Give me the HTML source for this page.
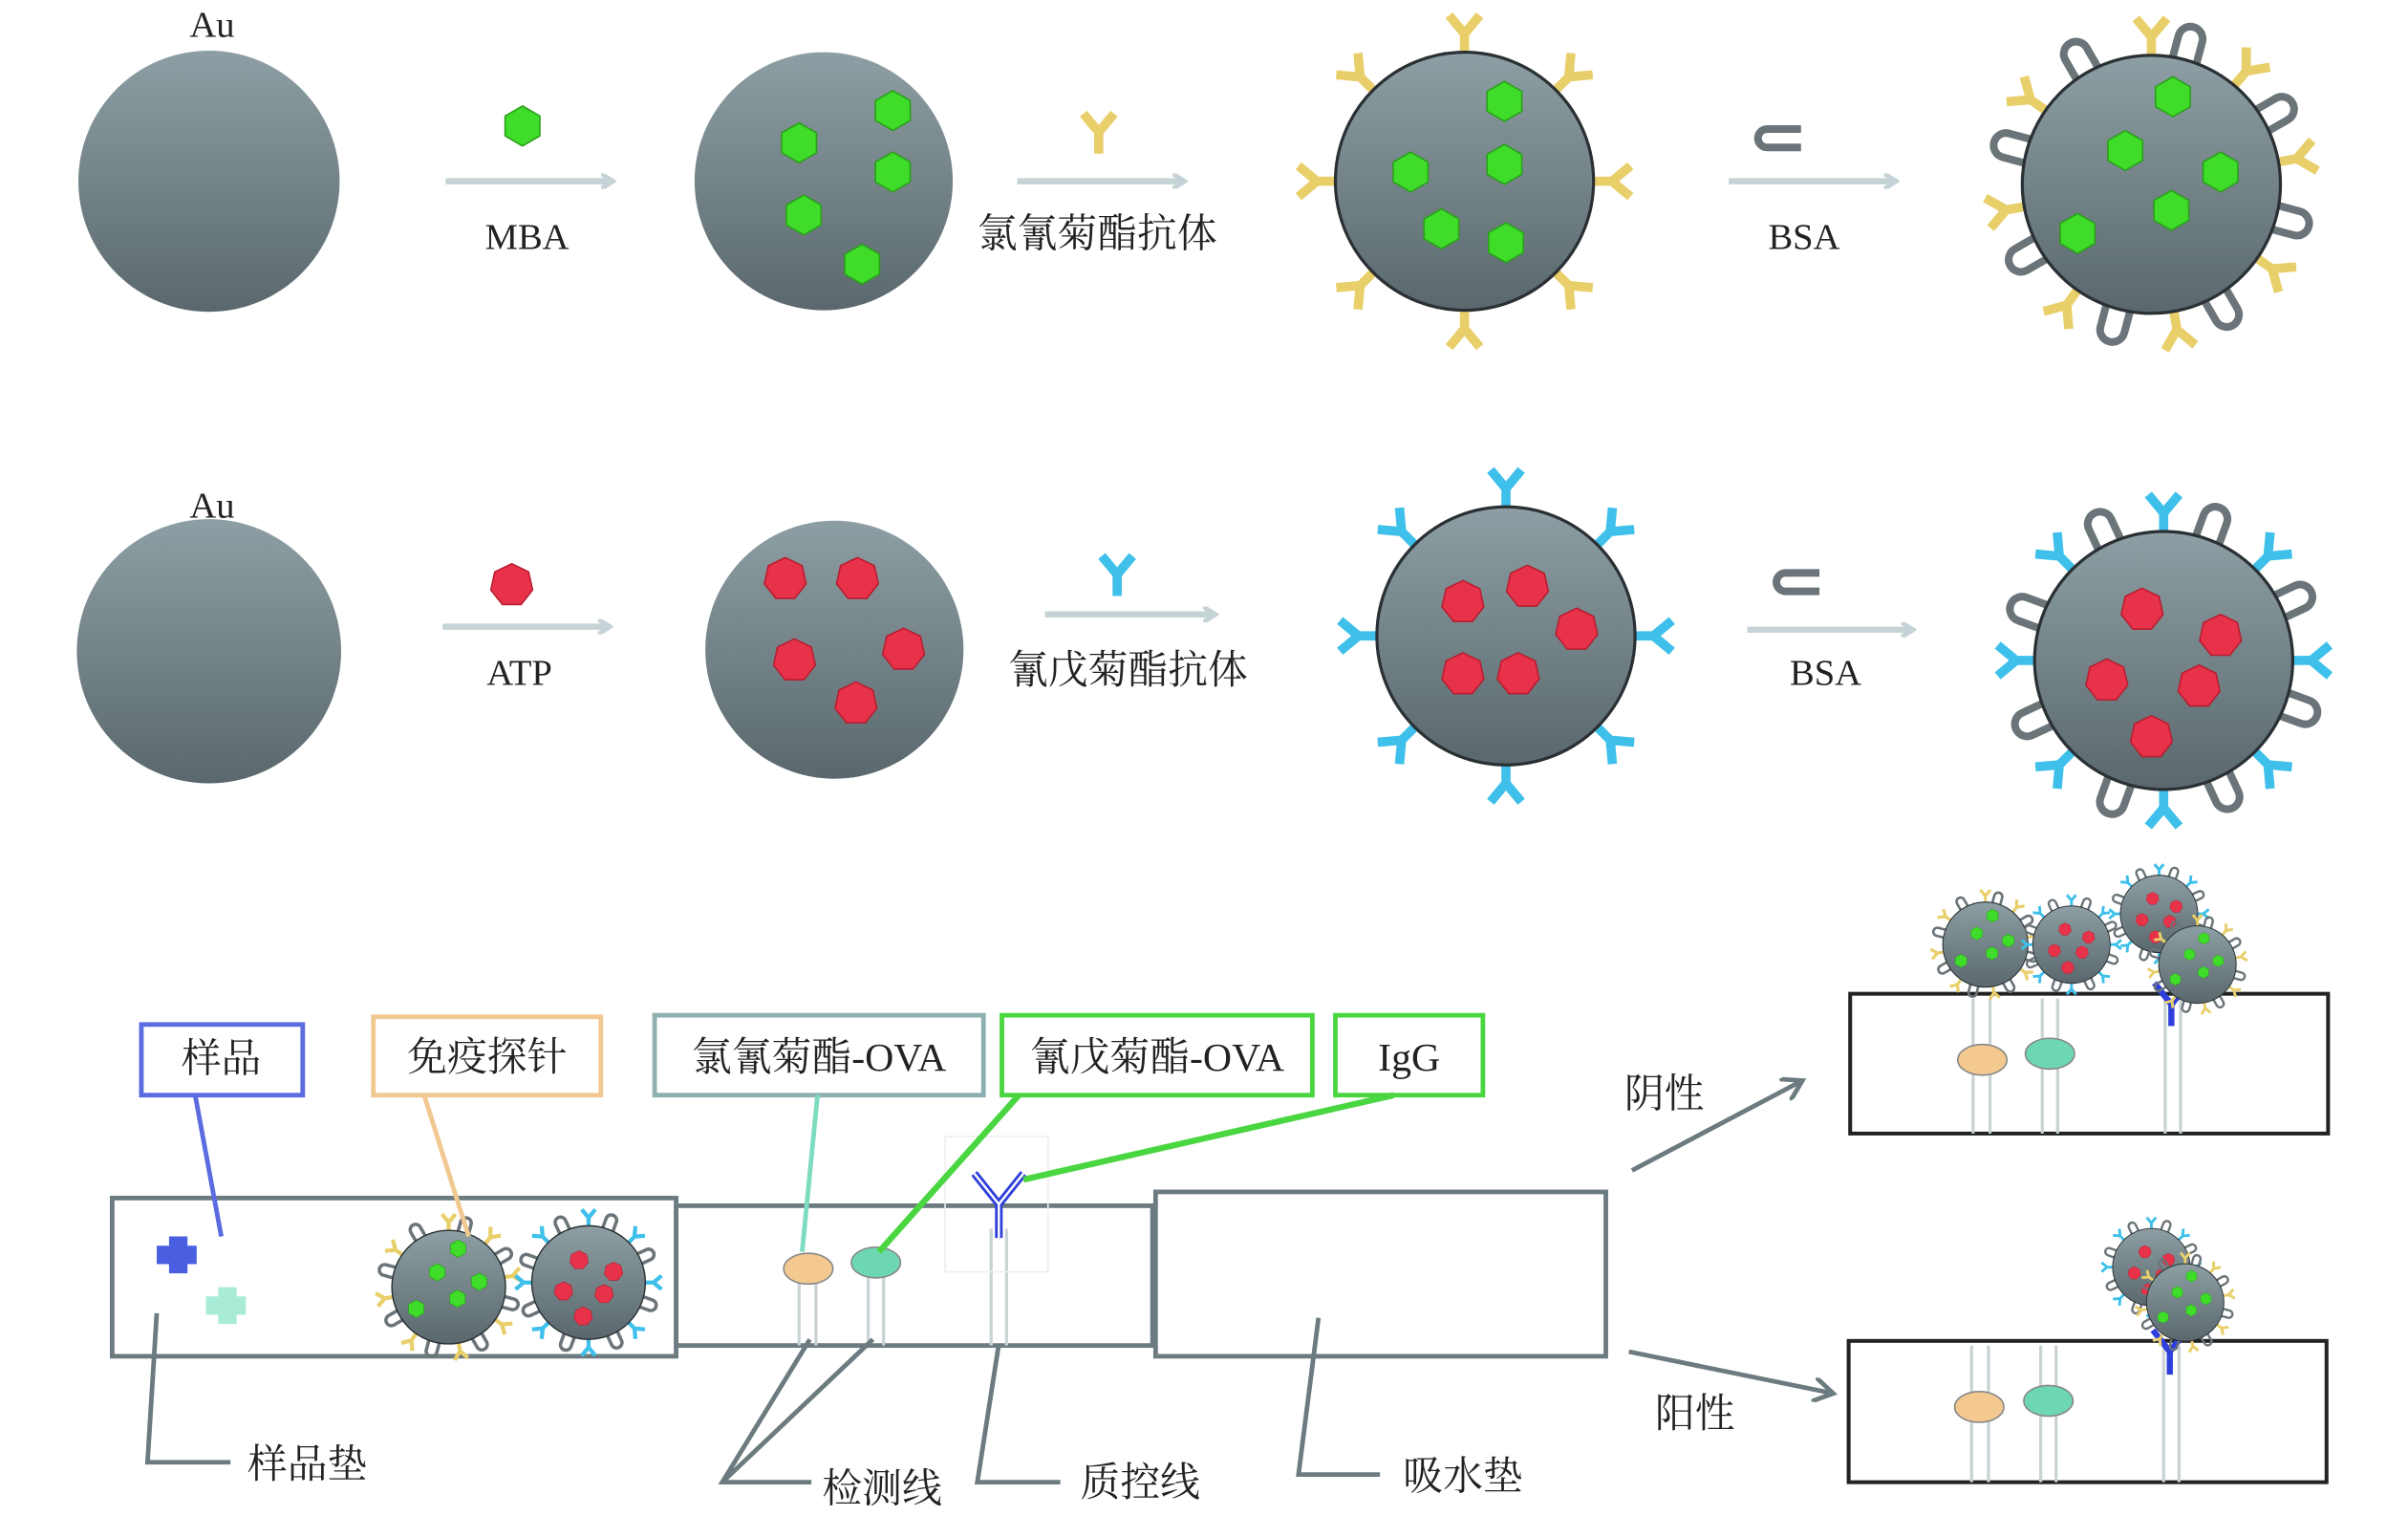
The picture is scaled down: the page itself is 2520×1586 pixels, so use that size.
<!DOCTYPE html>
<html><head><meta charset="utf-8"><style>
html,body{margin:0;padding:0;background:#fff;width:2520px;height:1586px;overflow:hidden}
svg{display:block}
text{font-family:"Liberation Serif","Noto Serif CJK SC","Noto Sans CJK SC",serif;fill:#222}
</style></head><body>
<svg width="2520" height="1586" viewBox="0 0 1567 987" preserveAspectRatio="none" xmlns="http://www.w3.org/2000/svg">
<defs>
<linearGradient id="gg" x1="0" y1="0" x2="0" y2="1">
<stop offset="0" stop-color="#8d9fa4"/><stop offset="1" stop-color="#5a686d"/></linearGradient>
<marker id="ah" markerWidth="10" markerHeight="10" refX="7" refY="5" orient="auto" markerUnits="userSpaceOnUse">
<path d="M0,0 L8,5 L0,10" fill="none" stroke="#c5d3d6" stroke-width="3"/></marker>
<marker id="ah2" markerWidth="16" markerHeight="16" refX="12" refY="8" orient="auto" markerUnits="userSpaceOnUse">
<path d="M0,0 L13,8 L0,16" fill="none" stroke="#6b7b80" stroke-width="3"/></marker>
<polygon id="hex" points="0,-13 11.3,-6.5 11.3,6.5 0,13 -11.3,6.5 -11.3,-6.5" fill="#3fdc2a" stroke="#2aa01a" stroke-width="1"/>
<polygon id="hep" points="0,-14 11,-8.7 13.6,3.1 6.1,12.6 -6.1,12.6 -13.6,3.1 -11,-8.7" fill="#e8324a" stroke="#b81e30" stroke-width="1"/>
<path id="aby" d="M0,0 L0,-14 L-10,-26 M0,-14 L10,-26" fill="none" stroke="#e8cf6a" stroke-width="6"/>
<path id="abb" d="M0,0 L0,-14 L-10,-26 M0,-14 L10,-26" fill="none" stroke="#3ec0ea" stroke-width="6"/>
<path id="bsa" d="M-8,0 L-8,-16 A8,8 0 0 1 8,-16 L8,0" fill="none" stroke="#6b7478" stroke-width="5"/>
<g id="np1">
<use href="#bsa" transform="rotate(15) translate(0,-82)"/>
<use href="#bsa" transform="rotate(60) translate(0,-82)"/><use href="#bsa" transform="rotate(105) translate(0,-82)"/>
<use href="#bsa" transform="rotate(150) translate(0,-82)"/><use href="#bsa" transform="rotate(195) translate(0,-82)"/>
<use href="#bsa" transform="rotate(240) translate(0,-82)"/><use href="#bsa" transform="rotate(285) translate(0,-82)"/>
<use href="#bsa" transform="rotate(330) translate(0,-82)"/>
<use href="#aby" transform="rotate(0) translate(0,-82)"/><use href="#aby" transform="rotate(40) translate(0,-82)"/>
<use href="#aby" transform="rotate(80) translate(0,-82)"/><use href="#aby" transform="rotate(125) translate(0,-82)"/>
<use href="#aby" transform="rotate(170) translate(0,-82)"/><use href="#aby" transform="rotate(215) translate(0,-82)"/>
<use href="#aby" transform="rotate(260) translate(0,-82)"/><use href="#aby" transform="rotate(305) translate(0,-82)"/>
<circle r="84" fill="url(#gg)" stroke="#2a3033" stroke-width="2"/>
<use href="#hex" x="14" y="-57"/><use href="#hex" x="-17" y="-22"/><use href="#hex" x="45" y="-8"/>
<use href="#hex" x="-48" y="32"/><use href="#hex" x="13" y="17"/>
</g>
<g id="np2">
<use href="#bsa" transform="rotate(20) translate(0,-82)"/><use href="#bsa" transform="rotate(65) translate(0,-82)"/>
<use href="#bsa" transform="rotate(110) translate(0,-82)"/><use href="#bsa" transform="rotate(155) translate(0,-82)"/>
<use href="#bsa" transform="rotate(200) translate(0,-82)"/><use href="#bsa" transform="rotate(245) translate(0,-82)"/>
<use href="#bsa" transform="rotate(290) translate(0,-82)"/><use href="#bsa" transform="rotate(335) translate(0,-82)"/>
<use href="#abb" transform="rotate(0) translate(0,-82)"/><use href="#abb" transform="rotate(45) translate(0,-82)"/>
<use href="#abb" transform="rotate(90) translate(0,-82)"/><use href="#abb" transform="rotate(135) translate(0,-82)"/>
<use href="#abb" transform="rotate(180) translate(0,-82)"/><use href="#abb" transform="rotate(225) translate(0,-82)"/>
<use href="#abb" transform="rotate(270) translate(0,-82)"/><use href="#abb" transform="rotate(315) translate(0,-82)"/>
<circle r="84" fill="url(#gg)" stroke="#2a3033" stroke-width="2"/>
<use href="#hep" x="-14" y="-33"/><use href="#hep" x="37" y="-16"/><use href="#hep" x="-37" y="13"/>
<use href="#hep" x="23" y="17"/><use href="#hep" x="-8" y="50"/>
</g>
</defs>

<!-- Row 1 -->
<text x="138" y="24" font-size="24" text-anchor="middle">Au</text>
<circle cx="136" cy="118" r="85" fill="url(#gg)"/>
<use href="#hex" x="340" y="82"/>
<line x1="290" y1="118" x2="398" y2="118" stroke="#c5d3d6" stroke-width="4" marker-end="url(#ah)"/>
<text x="343" y="162" font-size="24" text-anchor="middle">MBA</text>
<circle cx="536" cy="118" r="84" fill="url(#gg)"/>
<use href="#hex" x="581" y="72"/><use href="#hex" x="520" y="93"/><use href="#hex" x="581" y="112"/>
<use href="#hex" x="523" y="140"/><use href="#hex" x="561" y="172"/>
<use href="#aby" x="715" y="100"/>
<line x1="662" y1="118" x2="770" y2="118" stroke="#c5d3d6" stroke-width="4" marker-end="url(#ah)"/>
<text x="714" y="161" font-size="26" text-anchor="middle">氯氰菊酯抗体</text>
<g transform="translate(953,118)">
<use href="#aby" transform="rotate(0) translate(0,-82)"/><use href="#aby" transform="rotate(45) translate(0,-82)"/>
<use href="#aby" transform="rotate(90) translate(0,-82)"/><use href="#aby" transform="rotate(135) translate(0,-82)"/>
<use href="#aby" transform="rotate(180) translate(0,-82)"/><use href="#aby" transform="rotate(225) translate(0,-82)"/>
<use href="#aby" transform="rotate(270) translate(0,-82)"/><use href="#aby" transform="rotate(315) translate(0,-82)"/>
<circle r="84" fill="url(#gg)" stroke="#2a3033" stroke-width="2"/>
<use href="#hex" x="26" y="-52"/><use href="#hex" x="-35" y="-6"/><use href="#hex" x="26" y="-11"/>
<use href="#hex" x="-15" y="31"/><use href="#hex" x="27" y="40"/>
</g>
<path d="M1172,84 L1150,84 A6,6 0 0 0 1150,96 L1172,96" fill="none" stroke="#6b7478" stroke-width="5"/>
<line x1="1125" y1="118" x2="1233" y2="118" stroke="#c5d3d6" stroke-width="4" marker-end="url(#ah)"/>
<text x="1174" y="162" font-size="24" text-anchor="middle">BSA</text>
<use href="#np1" x="1400" y="120"/>

<!-- Row 2 -->
<text x="138" y="337" font-size="24" text-anchor="middle">Au</text>
<circle cx="136" cy="424" r="86" fill="url(#gg)"/>
<use href="#hep" x="333" y="381"/>
<line x1="288" y1="408" x2="396" y2="408" stroke="#c5d3d6" stroke-width="4" marker-end="url(#ah)"/>
<text x="338" y="446" font-size="24" text-anchor="middle">ATP</text>
<circle cx="543" cy="423" r="84" fill="url(#gg)"/>
<use href="#hep" x="511" y="377"/><use href="#hep" x="558" y="377"/><use href="#hep" x="517" y="430"/>
<use href="#hep" x="588" y="423"/><use href="#hep" x="557" y="458"/>
<use href="#abb" x="727" y="388"/>
<line x1="680" y1="400" x2="790" y2="400" stroke="#c5d3d6" stroke-width="4" marker-end="url(#ah)"/>
<text x="734" y="445" font-size="26" text-anchor="middle">氰戊菊酯抗体</text>
<g transform="translate(980,414)">
<use href="#abb" transform="rotate(0) translate(0,-82)"/><use href="#abb" transform="rotate(45) translate(0,-82)"/>
<use href="#abb" transform="rotate(90) translate(0,-82)"/><use href="#abb" transform="rotate(135) translate(0,-82)"/>
<use href="#abb" transform="rotate(180) translate(0,-82)"/><use href="#abb" transform="rotate(225) translate(0,-82)"/>
<use href="#abb" transform="rotate(270) translate(0,-82)"/><use href="#abb" transform="rotate(315) translate(0,-82)"/>
<circle r="84" fill="url(#gg)" stroke="#2a3033" stroke-width="2"/>
<use href="#hep" x="-28" y="-22"/><use href="#hep" x="14" y="-32"/><use href="#hep" x="46" y="-4"/>
<use href="#hep" x="-28" y="25"/><use href="#hep" x="8" y="25"/>
</g>
<path d="M1184,373 L1162,373 A6,6 0 0 0 1162,385 L1184,385" fill="none" stroke="#6b7478" stroke-width="5"/>
<line x1="1137" y1="410" x2="1244" y2="410" stroke="#c5d3d6" stroke-width="4" marker-end="url(#ah)"/>
<text x="1188" y="446" font-size="24" text-anchor="middle">BSA</text>
<use href="#np2" x="1408" y="430"/>

<!-- Strip -->
<g fill="none" stroke="#6b7b80" stroke-width="3">
<rect x="73" y="780" width="367" height="103"/>
<rect x="440" y="785" width="310" height="91"/>
<rect x="752" y="776" width="293" height="107"/>
</g>
<g stroke="#c9d2d4" stroke-width="2">
<line x1="520" y1="826" x2="520" y2="876"/><line x1="531" y1="826" x2="531" y2="876"/>
<line x1="565" y1="822" x2="565" y2="876"/><line x1="575" y1="822" x2="575" y2="876"/>
<line x1="645" y1="800" x2="645" y2="876"/><line x1="655" y1="800" x2="655" y2="876"/>
</g>
<ellipse cx="526" cy="826" rx="16" ry="10" fill="#f3c990" stroke="#888" stroke-width="1"/>
<ellipse cx="570" cy="822" rx="16" ry="10" fill="#6dd7b2" stroke="#888" stroke-width="1"/>
<rect x="615" y="740" width="67" height="88" fill="none" stroke="#eee" stroke-width="1"/>
<path d="M650,806 L650,784 L634,764 M650,784 L666,764" fill="none" stroke="#2f3fdc" stroke-width="5"/>
<path d="M650,806 L650,784 L634,764 M650,784 L666,764" fill="none" stroke="#fff" stroke-width="1.5"/>
<path d="M110,805 h12 v6 h6 v12 h-6 v6 h-12 v-6 h-8 v-12 h8z" fill="#4a5fe0"/>
<path d="M142,838 h12 v6 h6 v12 h-6 v6 h-12 v-6 h-8 v-12 h8z" fill="#a8ecd8"/>
<use href="#np1" transform="translate(292,838) scale(0.44)"/>
<use href="#np2" transform="translate(383,835) scale(0.44)"/>

<g fill="none" stroke-width="3">
<rect x="92" y="667" width="105" height="46" stroke="#5b6be0"/>
<rect x="243" y="662" width="148" height="51" stroke="#f0c890"/>
<rect x="426" y="661" width="214" height="52" stroke="#8fb0b0"/>
<rect x="652" y="661" width="202" height="52" stroke="#4ad640"/>
<rect x="869" y="661" width="96" height="52" stroke="#4ad640"/>
</g>
<text x="144" y="698" font-size="26" text-anchor="middle">样品</text>
<text x="317" y="697" font-size="26" text-anchor="middle">免疫探针</text>
<text x="533" y="697" font-size="26" text-anchor="middle">氯氰菊酯-OVA</text>
<text x="753" y="697" font-size="26" text-anchor="middle">氰戊菊酯-OVA</text>
<text x="917" y="697" font-size="26" text-anchor="middle">IgG</text>
<line x1="127" y1="713" x2="144" y2="805" stroke="#5b6be0" stroke-width="3"/>
<line x1="276" y1="713" x2="305" y2="805" stroke="#f0c890" stroke-width="3"/>
<line x1="532" y1="713" x2="522" y2="815" stroke="#7ddbc0" stroke-width="3"/>
<line x1="663" y1="713" x2="572" y2="815" stroke="#4ad640" stroke-width="4"/>
<line x1="907" y1="713" x2="666" y2="768" stroke="#4ad640" stroke-width="4"/>

<g fill="none" stroke="#6b7b80" stroke-width="3">
<path d="M102,855 L96,952 L150,952"/>
<path d="M527,872 L470,965 L528,965 M568,872 L470,965"/>
<path d="M650,875 L636,965 L690,965"/>
<path d="M858,858 L845,960 L898,960"/>
<line x1="1062" y1="762" x2="1172" y2="704" marker-end="url(#ah2)"/>
<line x1="1060" y1="880" x2="1192" y2="907" marker-end="url(#ah2)"/>
</g>
<text x="200" y="962" font-size="26" text-anchor="middle">样品垫</text>
<text x="574" y="978" font-size="26" text-anchor="middle">检测线</text>
<text x="742" y="974" font-size="26" text-anchor="middle">质控线</text>
<text x="952" y="970" font-size="26" text-anchor="middle">吸水垫</text>
<text x="1083" y="721" font-size="26" text-anchor="middle">阴性</text>
<text x="1103" y="929" font-size="26" text-anchor="middle">阳性</text>

<rect x="1204" y="647" width="311" height="91" fill="none" stroke="#222" stroke-width="2.5"/>
<g stroke="#c9d2d4" stroke-width="2">
<line x1="1284" y1="650" x2="1284" y2="738"/><line x1="1295" y1="650" x2="1295" y2="738"/>
<line x1="1329" y1="650" x2="1329" y2="738"/><line x1="1339" y1="650" x2="1339" y2="738"/>
<line x1="1409" y1="650" x2="1409" y2="738"/><line x1="1419" y1="650" x2="1419" y2="738"/>
</g>
<ellipse cx="1290" cy="690" rx="16" ry="10" fill="#f3c990" stroke="#888"/>
<ellipse cx="1334" cy="686" rx="16" ry="10" fill="#6dd7b2" stroke="#888"/>
<path d="M1413,668 L1413,654 L1402,640 M1413,654 L1424,640" fill="none" stroke="#2f3fdc" stroke-width="4"/>
<use href="#np1" transform="translate(1292,615) scale(0.33)"/>
<use href="#np2" transform="translate(1348,615) scale(0.3)"/>
<use href="#np2" transform="translate(1405,595) scale(0.3)"/>
<use href="#np1" transform="translate(1430,628) scale(0.3)"/>

<rect x="1203" y="873" width="311" height="92" fill="none" stroke="#222" stroke-width="2.5"/>
<g stroke="#c9d2d4" stroke-width="2">
<line x1="1283" y1="876" x2="1283" y2="965"/><line x1="1294" y1="876" x2="1294" y2="965"/>
<line x1="1328" y1="876" x2="1328" y2="965"/><line x1="1338" y1="876" x2="1338" y2="965"/>
<line x1="1408" y1="876" x2="1408" y2="965"/><line x1="1418" y1="876" x2="1418" y2="965"/>
</g>
<ellipse cx="1288" cy="916" rx="16" ry="10" fill="#f3c990" stroke="#888"/>
<ellipse cx="1333" cy="912" rx="16" ry="10" fill="#6dd7b2" stroke="#888"/>
<path d="M1412,895 L1412,880 L1401,866 M1412,880 L1423,866" fill="none" stroke="#2f3fdc" stroke-width="4"/>
<use href="#np2" transform="translate(1400,825) scale(0.3)"/>
<use href="#np1" transform="translate(1422,848) scale(0.3)"/>
</svg>
</body></html>
